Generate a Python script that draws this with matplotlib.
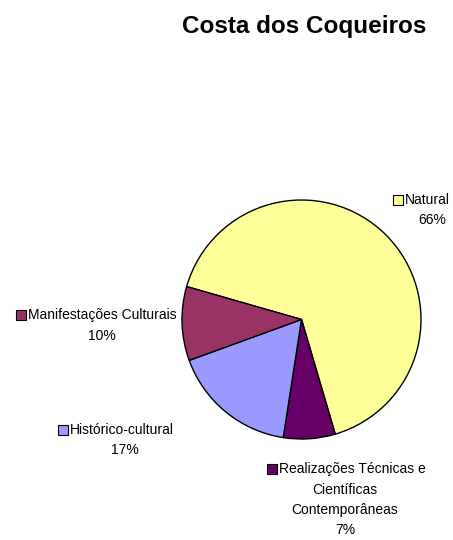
import matplotlib
matplotlib.use('Agg')
import matplotlib.pyplot as plt
from matplotlib.patches import Rectangle

plt.rcParams['font.family'] = ['Liberation Sans', 'DejaVu Sans']

# Dados
labels = ['Natural', 'Realizações Técnicas e\nCientíficas\nContemporâneas',
          'Histórico-cultural', 'Manifestações Culturais']
values = [66, 7, 17, 10]
colors = ['#FFFF99', '#660066', '#9999FF', '#993366']

W, H = 453, 540
fig = plt.figure(figsize=(W / 100, H / 100), dpi=100)


def fx(x):
    return x / W


def fy(y):
    return 1 - y / H


# Pizza: centro ~ (301.5, 319.5), raio ~ 119.5 px
cx, cy, r = 301.5, 319.5, 119.5
ax = fig.add_axes([fx(cx - r), fy(cy + r), 2 * r / W, 2 * r / H])
ax.pie(values, colors=colors, startangle=164, counterclock=False,
       wedgeprops=dict(edgecolor='black', linewidth=1))
ax.set_xlim(-1, 1)
ax.set_ylim(-1, 1)
ax.set_aspect('equal')
ax.axis('off')

fig.text(fx(304), fy(26), 'Costa dos Coqueiros', ha='center', va='center',
         fontsize=17.5, fontweight='bold')

# Rótulos (posição do quadrado, centro do texto, linha superior)
label_pos = [(398, 432, 200), (272, 345, 469), (63, 125, 430), (21, 102, 315)]
fs = 10
for (sx, tx, ty), lab, val, col in zip(label_pos, labels, values, colors):
    lines = lab.split('\n')
    fig.text(fx(sx + 7), fy(ty), lines[0], ha='left', va='center',
             fontsize=fs)
    fig.patches.append(Rectangle((fx(sx - 5), fy(ty + 5)), 10 / W, 10 / H,
                                 transform=fig.transFigure,
                                 facecolor=col, edgecolor='black', lw=0.8))
    for i, line in enumerate(lines[1:] + [f'{val}%']):
        fig.text(fx(tx), fy(ty + 20.5 * (i + 1)), line, ha='center',
                 va='center', fontsize=fs)

fig.savefig('out.png', dpi=100)
